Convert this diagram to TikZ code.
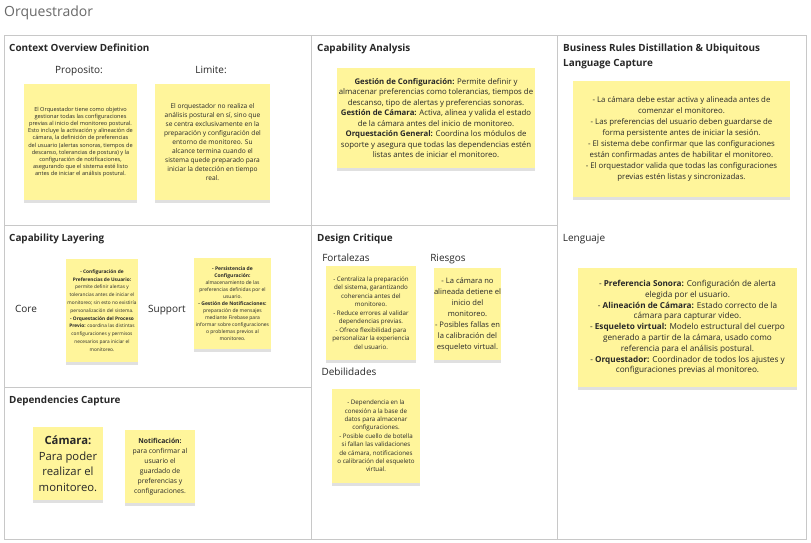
\documentclass[tikz,border=0pt]{standalone}
\usepackage{fontspec}
\setmainfont{Open Sans}
\usetikzlibrary{shadows}
\definecolor{stickyY}{RGB}{255,245,155}
\definecolor{gridC}{RGB}{200,200,200}
\definecolor{titleC}{RGB}{105,105,105}
\definecolor{txtC}{RGB}{40,40,40}
\newcommand{\fs}[2]{\fontsize{#1}{#2}\selectfont}
\begin{document}
\begin{tikzpicture}[x=1pt,y=-1pt,
  sticky/.style={fill=stickyY, draw=none, align=center, inner sep=0pt, text=txtC,
    drop shadow={shadow xshift=0pt, shadow yshift=-2.5pt, opacity=0.12, fill=black}},
  hdr/.style={anchor=base west, inner sep=0pt, font=\fs{9.9}{15}\bfseries, text=txtC},
  lbl/.style={anchor=base, inner sep=0pt, font=\fs{10}{12}, text=txtC},
  gridline/.style={draw=gridC, line width=0.9pt}]
\useasboundingbox (0,0) rectangle (811,542);
\fill[white] (0,0) rectangle (811,542);
% title
\node[anchor=base west, font=\fs{14}{16}, text=titleC, inner sep=0pt] (title) at (4,16) {Orquestrador};
% grid
\draw[gridline] (4,35) rectangle (806,539);
\draw[gridline] (311,35) -- (311,539);
\draw[gridline] (557,35) -- (557,539);
\draw[gridline] (4,225) -- (557,225);
\draw[gridline] (4,387) -- (311,387);
% headers
\node[hdr] (h1) at (9,51) {Context Overview Definition};
\node[hdr] (h2) at (317,51) {Capability Analysis};
\node[hdr] (h3) at (563,51) {Business Rules Distillation \& Ubiquitous};
\node[hdr] (h3b) at (563,66) {Language Capture};
\node[hdr] (h4) at (9,241) {Capability Layering};
\node[hdr] (h5) at (317,241) {Design Critique};
\node[hdr] (h6) at (9,403) {Dependencies Capture};
% labels
\node[lbl] (lprop) at (79,73) {Proposito:};
\node[lbl] (llim) at (211,73) {Limite:};
\node[lbl] (lcore) at (26,312) {Core};
\node[lbl] (lsup) at (167,312) {Support};
\node[lbl] (lfort) at (346,261) {Fortalezas};
\node[lbl] (lries) at (448,261) {Riesgos};
\node[lbl] (ldeb) at (349,375) {Debilidades};
\node[lbl] (lleng) at (584,241) {Lenguaje};
% stickies
\node[sticky, minimum width=113, minimum height=116, font=\fs{5.6}{7.2}] (sprop) at (80.5,142) {El Orquestador tiene como objetivo\\gestionar todas las configuraciones\\previas al inicio del monitoreo postural.\\Esto incluye la activación y alineación de\\cámara, la definición de preferencias\\del usuario (alertas sonoras, tiempos de\\descanso, tolerancias de postura) y la\\configuración de notificaciones,\\asegurando que el sistema esté listo\\antes de iniciar el análisis postural.};
\node[sticky, minimum width=115, minimum height=116, font=\fs{6.6}{9}] (slim) at (212.5,142) {El orquestador no realiza el\\análisis postural en sí, sino que\\se centra exclusivamente en la\\preparación y configuración del\\entorno de monitoreo. Su\\alcance termina cuando el\\sistema quede preparado para\\iniciar la detección en tiempo\\real.};
\node[sticky, minimum width=198, minimum height=100, font=\fs{7.8}{10.5}] (scap) at (436,118) {\textbf{Gestión de Configuración:} Permite definir y\\almacenar preferencias como tolerancias, tiempos de\\descanso, tipo de alertas y preferencias sonoras.\\\textbf{Gestión de Cámara:} Activa, alinea y valida el estado\\de la cámara antes del inicio de monitoreo.\\\textbf{Orquestación General:} Coordina los módulos de\\soporte y asegura que todas las dependencias estén\\listas antes de iniciar el monitoreo.};
\node[sticky, minimum width=217, minimum height=116, font=\fs{7.8}{10.9}] (sbr) at (681.5,139) {- La cámara debe estar activa y alineada antes de\\comenzar el monitoreo.\\- Las preferencias del usuario deben guardarse de\\forma persistente antes de iniciar la sesión.\\- El sistema debe confirmar que las configuraciones\\están confirmadas antes de habilitar el monitoreo.\\- El orquestador valida que todas las configuraciones\\previas estén listas y sincronizadas.};
\node[sticky, minimum width=219, minimum height=119, font=\fs{8.2}{10.8}] (sleng) at (687.5,327.5) {- \textbf{Preferencia Sonora:} Configuración de alerta\\elegida por el usuario.\\- \textbf{Alineación de Cámara:} Estado correcto de la\\cámara para capturar video.\\- \textbf{Esqueleto virtual:} Modelo estructural del cuerpo\\generado a partir de la cámara, usado como\\referencia para el análisis postural.\\- \textbf{Orquestador:} Coordinador de todos los ajustes y\\configuraciones previas al monitoreo.};
\node[sticky, minimum width=72, minimum height=103, font=\fs{4.8}{7.8}] (score) at (102,310.5) {\textbf{- Configuración de}\\\textbf{Preferencias de Usuario:}\\permite definir alertas y\\tolerancias antes de iniciar el\\monitoreo; sin esto no existiría\\personalización del sistema.\\\textbf{- Orquestación del Proceso}\\\textbf{Previo:} coordina las distintas\\configuraciones y permisos\\necesarios para iniciar el\\monitoreo.};
\node[sticky, minimum width=77, minimum height=91, font=\fs{5.0}{7}] (ssup) at (232.5,303.5) {\textbf{- Persistencia de}\\\textbf{Configuración:}\\almacenamiento de las\\preferencias definidas por el\\usuario.\\\textbf{- Gestión de Notificaciones:}\\preparación de mensajes\\mediante Firebase para\\informar sobre configuraciones\\o problemas previos al\\monitoreo.};
\node[sticky, minimum width=90, minimum height=94, font=\fs{6.2}{8.5}] (sfort) at (371,313) {- Centraliza la preparación\\del sistema, garantizando\\coherencia antes del\\monitoreo.\\- Reduce errores al validar\\dependencias previas.\\- Ofrece flexibilidad para\\personalizar la experiencia\\del usuario.};
\node[sticky, minimum width=67, minimum height=92, font=\fs{7.6}{11}] (sries) at (467.5,314) {- La cámara no\\alineada detiene el\\inicio del\\monitoreo.\\- Posibles fallas en\\la calibración del\\esqueleto virtual.};
\node[sticky, minimum width=88, minimum height=94, font=\fs{6.2}{8.4}] (sdeb) at (376,436) {- Dependencia en la\\conexión a la base de\\datos para almacenar\\configuraciones.\\- Posible cuello de botella\\si fallan las validaciones\\de cámara, notificaciones\\o calibración del esqueleto\\virtual.};
\node[sticky, minimum width=70, minimum height=73, font=\fs{11.3}{15.5}] (scam) at (68,463.5) {\textbf{Cámara:}\\Para poder\\realizar el\\monitoreo.};
\node[sticky, minimum width=70, minimum height=73, font=\fs{6.8}{10}] (snot) at (160,466.5) {\textbf{Notificación:}\\para confirmar al\\usuario el\\guardado de\\preferencias y\\configuraciones.};
\end{tikzpicture}
\end{document}
